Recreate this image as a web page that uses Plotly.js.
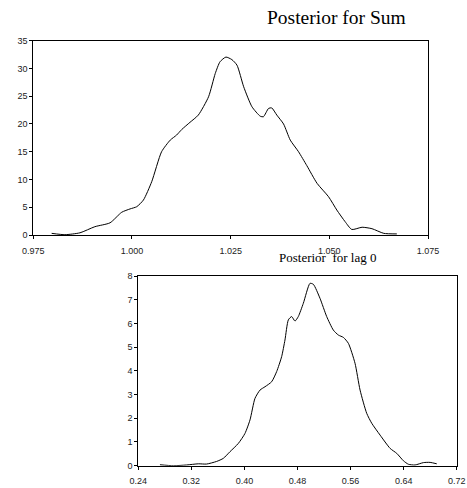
<!DOCTYPE html>
<html><head><meta charset="utf-8">
<script src="https://cdn.plot.ly/plotly-3.0.1.min.js"></script>
<style>html,body{margin:0;padding:0;background:#fff}#c{width:467px;height:488px}</style>
</head><body><div id="c"></div>
<script>
// Posterior for Sum
const sumX = [0.97965,0.983,0.98683,0.9906,0.99444,0.9974,0.99951,1.0012,1.0029,1.005,1.0075,1.0097,1.0113,1.0126,1.0147,1.0168,1.0194,1.0211,1.0223,1.0238,1.0253,1.0266,1.0283,1.0304,1.0325,1.0333,1.0346,1.0354,1.0367,1.0384,1.0401,1.0422,1.0443,1.0469,1.0498,1.0519,1.054,1.0557,1.0583,1.0608,1.0638,1.0671];
const sumY = [0.3,0.06,0.4,1.5,2.2,4.1,4.7,5.1,6.3,9.6,15.0,17.1,18.0,19.0,20.3,21.6,24.9,29.1,31.2,32.05,31.6,30.6,26.7,23.1,21.4,21.3,22.8,22.9,21.6,20.0,17.1,15.0,12.5,9.3,6.9,4.5,2.4,1.0,1.4,1.14,0.3,0.2];
// Posterior for lag 0
const lagX = [0.2727,0.2928,0.3129,0.3305,0.343,0.3581,0.3682,0.3782,0.3908,0.4008,0.4084,0.4159,0.4235,0.431,0.441,0.4486,0.4561,0.4611,0.4662,0.4712,0.4762,0.4812,0.4888,0.4988,0.5039,0.5139,0.524,0.534,0.5416,0.5492,0.5567,0.5667,0.5743,0.5843,0.5919,0.6045,0.6196,0.6296,0.6396,0.6472,0.6572,0.6698,0.6799,0.6899];
const lagY = [0.04,0,0.03,0.08,0.07,0.18,0.31,0.59,0.94,1.36,1.93,2.84,3.19,3.33,3.54,3.97,4.6,5.3,6.15,6.29,6.1,6.29,6.85,7.69,7.65,7.06,6.29,5.72,5.51,5.41,5.16,4.32,3.19,2.21,1.79,1.29,0.73,0.52,0.21,0.06,0.03,0.13,0.14,0.08];
const titles = ["Posterior for Sum", "Posterior\u00a0 for lag 0"];

const tickFont = {family: "Liberation Sans, Arial, sans-serif", size: 9, color: "#222"};
const ax = {showline: true, linecolor: "#000", linewidth: 1, mirror: true, ticks: "outside",
  ticklen: 3, tickcolor: "#000", tickfont: tickFont, showgrid: false, zeroline: false, fixedrange: true};

const traces = [
  {x: sumX, y: sumY, type: "scatter", mode: "lines", line: {color: "#000", width: 1, shape: "spline", smoothing: 0.6}, xaxis: "x", yaxis: "y", hoverinfo: "skip"},
  {x: lagX, y: lagY, type: "scatter", mode: "lines", line: {color: "#000", width: 1, shape: "spline", smoothing: 0.6}, xaxis: "x2", yaxis: "y2", hoverinfo: "skip"}
];

const layout = {
  width: 467, height: 488, margin: {l: 0, r: 0, t: 0, b: 0},
  paper_bgcolor: "#fff", plot_bgcolor: "#fff", showlegend: false,
  xaxis: Object.assign({}, ax, {domain: [0.0713, 0.9165], range: [0.975, 1.075], tick0: 0.975, dtick: 0.025, tickformat: ".3f", anchor: "y", ticklabelstandoff: 4}),
  yaxis: Object.assign({}, ax, {domain: [0.5184, 0.9166], range: [0, 35], dtick: 5, anchor: "x"}),
  xaxis2: Object.assign({}, ax, {domain: [0.2961, 0.978], range: [0.24, 0.72], tick0: 0.24, dtick: 0.08, tickformat: ".2f", anchor: "y2", ticklabelstandoff: 4}),
  yaxis2: Object.assign({}, ax, {domain: [0.0457, 0.4344], range: [0, 8], dtick: 1, anchor: "x2"}),
  annotations: [
    {text: titles[0], xref: "paper", yref: "paper", x: 336/467, y: 1 - 17/488, xanchor: "center", yanchor: "middle", showarrow: false,
     font: {family: "Liberation Serif, Times New Roman, serif", size: 19.5, color: "#000"}},
    {text: titles[1], xref: "paper", yref: "paper", x: 327/467, y: 1 - 257/488, xanchor: "center", yanchor: "middle", showarrow: false,
     font: {family: "Liberation Serif, Times New Roman, serif", size: 13, color: "#000"}}
  ]
};
Plotly.newPlot("c", traces, layout, {staticPlot: true, displayModeBar: false});
</script></body></html>
